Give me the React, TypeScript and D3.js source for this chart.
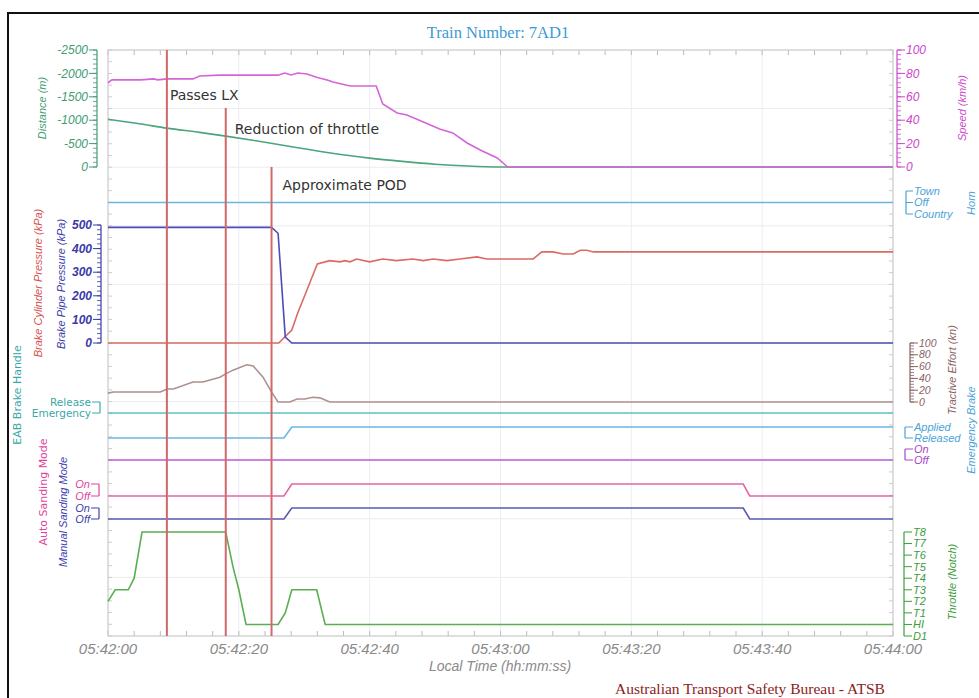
import React from "react";
import * as d3 from "d3";

const W = 979;
const H = 698;

// ---------- data (seconds after 05:42:00, value) ----------
const distanceSeries: [number, number][] = [
  [0, -1020], [5, -920], [9, -830], [14, -740], [18, -660], [24, -530], [29, -410],
  [34, -300], [40, -190], [45, -120], [50, -60], [55, -20], [60, 0], [120, 0],
];
const speedSeries: [number, number][] = [
  [0, 72], [0.6, 74.5], [5, 74.5], [7, 75.3], [7.6, 74.5], [9, 75.3], [13, 75.3], [14, 77.8],
  [17, 78.5], [26, 78.5], [27, 80.3], [28, 78.6], [29, 80.3], [30.4, 79.5], [32, 76.5],
  [33.5, 74.4], [34.4, 72.6], [37, 69.2], [41, 69.2], [42, 53.8], [44.2, 46.2], [45.7, 44.4],
  [48.2, 38.5], [50.7, 32.5], [52.7, 29.1], [54.9, 20.5], [56.9, 14.5], [59.5, 7.7], [61.1, 0], [120, 0],
];
const brakePipeSeries: [number, number][] = [
  [0, 490], [25, 490], [26, 465], [27.1, 25], [28.1, 0], [120, 0],
];
const brakeCylinderSeries: [number, number][] = [
  [0, 0], [26.1, 0], [28.1, 55], [29, 127], [30.6, 237], [32, 335], [33.9, 349], [35.5, 344],
  [36.2, 349], [37, 344], [38, 356], [40, 344], [42, 356], [44.1, 349], [46.6, 356], [48.2, 349],
  [49.7, 356], [51.8, 349], [53.8, 356], [56.4, 365], [57.9, 356], [65, 356], [66.3, 386],
  [68, 386], [69.6, 377], [71.1, 377], [72.2, 393], [73.2, 393], [74.2, 386], [120, 386],
];
const tractiveSeries: [number, number][] = [
  [0, 15], [0.8, 17], [8, 17], [9, 22], [10, 22], [13, 34], [14.5, 34], [17.1, 42], [18.2, 49],
  [19.1, 54], [21.2, 63], [22.2, 61], [23.7, 42], [25.1, 15], [26, 0], [27.8, 0], [28.9, 5],
  [30.1, 5], [31.3, 8], [32.4, 7], [33.9, 0], [120, 0],
];
const throttleSeries: [number, number][] = [
  [0, 3], [1.1, 4], [3.1, 4], [4, 5], [5.2, 9], [18, 9], [19.1, 6], [20, 4], [21.1, 1],
  [26, 1], [27.1, 2], [28.1, 4], [31.9, 4], [33.2, 1], [120, 1],
];
const hornSeries: [number, number][] = [[0, 1], [120, 1]];
const eabSeries: [number, number][] = [[0, 0], [120, 0]];
const emergencyBrakeSeries: [number, number][] = [[0, 0], [26.9, 0], [28.1, 1], [120, 1]];
const onOffSeries: [number, number][] = [[0, 0], [120, 0]];
const autoSandingSeries: [number, number][] = [[0, 0], [26.9, 0], [28.1, 1], [97.1, 1], [98.1, 0], [120, 0]];
const manualSandingSeries: [number, number][] = [[0, 0], [26.9, 0], [28.1, 1], [97.1, 1], [98.1, 0], [120, 0]];

const events = [
  { t: 9, label: "Passes LX" },
  { t: 18, label: "Reduction of throttle" },
  { t: 25, label: "Approximate POD" },
];

const hornLabels = ["Country", "Off", "Town"];
const eabLabels = ["Emergency", "Release"];
const emergencyLabels = ["Released", "Applied"];
const onOffLabels = ["Off", "On"];
const throttleLabels = ["D1", "HI", "T1", "T2", "T3", "T4", "T5", "T6", "T7", "T8"];

// ---------- layout ----------
const PL = 108, PR = 893, PT = 50, PB = 636;
const T0 = new Date(2000, 0, 1, 5, 42, 0);
const T1 = new Date(2000, 0, 1, 5, 44, 0);
const at = (s: number) => new Date(T0.getTime() + s * 1000);
const x = d3.scaleTime().domain([T0, T1]).range([PL, PR]);

const yDist = d3.scaleLinear().domain([-2500, 0]).range([50, 167]);
const ySpeed = d3.scaleLinear().domain([0, 100]).range([167, 50]);
const yPress = d3.scaleLinear().domain([0, 500]).range([343, 225]);
const yHorn = d3.scaleLinear().domain([0, 2]).range([214, 191]);
const yTract = d3.scaleLinear().domain([0, 100]).range([402, 343]);
const yEab = d3.scaleLinear().domain([0, 1]).range([413, 402]);
const yEmerg = d3.scaleLinear().domain([0, 1]).range([438, 427]);
const yOnOff = d3.scaleLinear().domain([0, 1]).range([460, 449]);
const yAuto = d3.scaleLinear().domain([0, 1]).range([496, 484]);
const yManual = d3.scaleLinear().domain([0, 1]).range([519, 508]);
const yThrottle = d3.scaleLinear().domain([0, 9]).range([636, 532]);

const SANS = "'Liberation Sans', Arial, sans-serif";
const VERD = "'DejaVu Sans', Verdana, sans-serif";

function path(data: [number, number][], y: d3.ScaleLinear<number, number>, curve = d3.curveLinear) {
  return d3
    .line<[number, number]>()
    .x((d) => x(at(d[0])))
    .y((d) => y(d[1]))
    .curve(curve)(data) as string;
}

function NumAxisLeft({ scale, ax, major, minor, color, bold }: any) {
  const [d0, d1] = scale.domain();
  const majors = d3.range(d0, d1 + 0.001, major);
  const minors = d3.range(d0, d1 + 0.001, minor);
  return (
    <g>
      <line x1={ax} x2={ax} y1={scale(d0)} y2={scale(d1)} stroke={color} strokeWidth={1.2} />
      {minors.map((v: number, i: number) => (
        <line key={"m" + i} x1={ax - 4} x2={ax} y1={scale(v)} y2={scale(v)} stroke={color} strokeWidth={0.8} />
      ))}
      {majors.map((v: number, i: number) => (
        <g key={"M" + i}>
          <line x1={ax - 8} x2={ax} y1={scale(v)} y2={scale(v)} stroke={color} strokeWidth={1} />
          <text x={ax - 9} y={scale(v)} dy="0.35em" textAnchor="end" fontFamily={SANS} fontStyle="italic"
            fontWeight={bold ? 700 : 400} fontSize={12} fill={color}>{v}</text>
        </g>
      ))}
    </g>
  );
}

function NumAxisRight({ scale, ax, major, minor, color, fs = 12 }: any) {
  const [d0, d1] = scale.domain();
  const majors = d3.range(d0, d1 + 0.001, major);
  const minors = d3.range(d0, d1 + 0.001, minor);
  return (
    <g>
      <line x1={ax} x2={ax} y1={scale(d0)} y2={scale(d1)} stroke={color} strokeWidth={1.2} />
      {minors.map((v: number, i: number) => (
        <line key={"m" + i} x1={ax} x2={ax + 4} y1={scale(v)} y2={scale(v)} stroke={color} strokeWidth={0.8} />
      ))}
      {majors.map((v: number, i: number) => (
        <g key={"M" + i}>
          <line x1={ax} x2={ax + 8} y1={scale(v)} y2={scale(v)} stroke={color} strokeWidth={1} />
          <text x={ax + 9} y={scale(v)} dy="0.35em" textAnchor="start" fontFamily={SANS} fontStyle="italic"
            fontSize={fs} fill={color}>{v}</text>
        </g>
      ))}
    </g>
  );
}

function CatAxis({ scale, labels, ax, side, color, italic = true, family = SANS, fs = 11, tick = 8 }: any) {
  const ys = labels.map((_: string, i: number) => scale(i));
  const dir = side === "left" ? -1 : 1;
  return (
    <g>
      <line x1={ax} x2={ax} y1={Math.min(...ys)} y2={Math.max(...ys)} stroke={color} strokeWidth={1.2} />
      {labels.map((l: string, i: number) => (
        <g key={i}>
          <line x1={ax} x2={ax + dir * tick} y1={ys[i]} y2={ys[i]} stroke={color} strokeWidth={1} />
          <text x={ax + dir * (tick + 1)} y={ys[i]} dy="0.35em" textAnchor={side === "left" ? "end" : "start"}
            fontFamily={family} fontStyle={italic ? "italic" : "normal"} fontSize={fs} fill={color}>{l}</text>
        </g>
      ))}
    </g>
  );
}

function VTitle({ x: tx, y: ty, text, color, italic = true, family = SANS, fs = 12 }: any) {
  return (
    <text transform={`translate(${tx},${ty}) rotate(-90)`} textAnchor="middle" dy="0.35em"
      fontFamily={family} fontStyle={italic ? "italic" : "normal"} fontSize={fs} fill={color}>{text}</text>
  );
}

export default function App() {
  const majorTimes = x.ticks(d3.timeSecond.every(20) as any);
  const minorTimes = x.ticks(d3.timeSecond.every(4) as any);
  const fmt = d3.timeFormat("%H:%M:%S");
  const hGrid = d3.range(0, 11).map((i) => PT + ((PB - PT) * i) / 10);
  const hMinor = d3.range(0, 51).map((i) => PT + ((PB - PT) * i) / 50);

  return (
    <svg width={W} height={H} style={{ position: "absolute", left: 0, top: 0, background: "#fff" }}>
      <rect x={0} y={0} width={W} height={H} fill="#fff" />
      <rect x={8} y={13} width={1000} height={720} fill="none" stroke="#111" strokeWidth={2} />

      <text x={498} y={38} textAnchor="middle" fontFamily="'Liberation Serif', 'Times New Roman', serif"
        fontSize={16.5} fill="#3d9ad1">Train Number: 7AD1</text>

      {/* grid */}
      {hGrid.map((gy, i) => (
        <line key={"hg" + i} x1={PL} x2={PR} y1={gy} y2={gy} stroke="#ececec" strokeWidth={1} />
      ))}
      {majorTimes.map((t, i) => (
        <line key={"vg" + i} x1={x(t)} x2={x(t)} y1={PT} y2={PB} stroke="#ececf2" strokeWidth={1} />
      ))}
      {minorTimes.map((t, i) => (
        <g key={"mt" + i}>
          <line x1={x(t)} x2={x(t)} y1={PT} y2={PT + 5} stroke="#bbb" strokeWidth={1} />
          <line x1={x(t)} x2={x(t)} y1={PB} y2={PB - 5} stroke="#bbb" strokeWidth={1} />
        </g>
      ))}
      {hMinor.map((gy, i) => (
        <g key={"hm" + i}>
          <line x1={PL} x2={PL + 4} y1={gy} y2={gy} stroke="#ccc" strokeWidth={1} />
          <line x1={PR} x2={PR - 4} y1={gy} y2={gy} stroke="#ccc" strokeWidth={1} />
        </g>
      ))}
      <rect x={PL} y={PT} width={PR - PL} height={PB - PT} fill="none" stroke="#cfcfcf" strokeWidth={1.2} />

      {/* x axis labels */}
      {majorTimes.map((t, i) => (
        <text key={"xl" + i} x={x(t)} y={654} textAnchor="middle" fontFamily={SANS} fontStyle="italic"
          fontSize={15} fill="#8a8a8a">{fmt(t)}</text>
      ))}
      <text x={500} y={671} textAnchor="middle" fontFamily={SANS} fontStyle="italic" fontSize={14} fill="#8a8a8a">
        Local Time (hh:mm:ss)
      </text>

      {/* series */}
      <path d={path(hornSeries, yHorn)} fill="none" stroke="#6ab6e2" strokeWidth={1.6} />
      <path d={path(eabSeries, yEab)} fill="none" stroke="#5cc0c0" strokeWidth={1.6} />
      <path d={path(emergencyBrakeSeries, yEmerg)} fill="none" stroke="#6ab6e2" strokeWidth={1.6} />
      <path d={path(onOffSeries, yOnOff)} fill="none" stroke="#bb5ed8" strokeWidth={1.6} />
      <path d={path(autoSandingSeries, yAuto)} fill="none" stroke="#e266a6" strokeWidth={1.6} />
      <path d={path(manualSandingSeries, yManual)} fill="none" stroke="#5a5ab4" strokeWidth={1.6} />
      <path d={path(tractiveSeries, yTract)} fill="none" stroke="#ad9090" strokeWidth={1.6} />
      <path d={path(brakeCylinderSeries, yPress)} fill="none" stroke="#dc6a62" strokeWidth={1.6} />
      <path d={path(brakePipeSeries, yPress)} fill="none" stroke="#4c4cb8" strokeWidth={1.6} />
      <path d={path(throttleSeries, yThrottle)} fill="none" stroke="#5aae52" strokeWidth={1.6} />
      <path d={path(distanceSeries, yDist, d3.curveMonotoneX)} fill="none" stroke="#4aa47c" strokeWidth={1.6} />
      <path d={path(speedSeries, ySpeed)} fill="none" stroke="#d365d8" strokeWidth={1.6} />

      {/* events */}
      {events.map((e, i) => {
        const ex = x(at(e.t));
        const top = [PT, 108, 167][i];
        const ly = [100, 134, 190][i];
        return (
          <g key={"ev" + i}>
            <line x1={ex} x2={ex} y1={top} y2={PB} stroke="#d06868" strokeWidth={2} />
            <text x={ex + 3 + [0, 6, 8][i]} y={ly} fontFamily={VERD} fontSize={14} fill="#333">{e.label}</text>
          </g>
        );
      })}

      {/* left axes */}
      <NumAxisLeft scale={yDist} ax={97} major={500} minor={100} color="#3f9d72" />
      <VTitle x={42} y={108} text="Distance (m)" color="#3f9d72" fs={11} />
      <NumAxisLeft scale={yPress} ax={101} major={100} minor={20} color="#3a3aa8" bold />
      <VTitle x={61} y={284} text="Brake Pipe Pressure (kPa)" color="#3a3aa8" fs={11} />
      <VTitle x={38} y={283} text="Brake Cylinder Pressure (kPa)" color="#d65050" fs={11} />
      <CatAxis scale={yEab} labels={eabLabels} ax={100} side="left" color="#3aa8a8" italic={false} family={VERD} fs={10.5} />
      <VTitle x={17} y={395} text="EAB Brake Handle" color="#3aa8a8" italic={false} family={VERD} fs={11} />
      <CatAxis scale={yAuto} labels={onOffLabels} ax={99} side="left" color="#e0449c" fs={11} />
      <VTitle x={43} y={492} text="Auto Sanding Mode" color="#e0449c" italic={false} family={VERD} fs={11} />
      <CatAxis scale={yManual} labels={onOffLabels} ax={99} side="left" color="#4040b0" fs={11} />
      <VTitle x={63} y={512} text="Manual Sanding Mode" color="#4040b0" fs={11} />

      {/* right axes */}
      <NumAxisRight scale={ySpeed} ax={897} major={20} minor={4} color="#cc48cc" />
      <VTitle x={962} y={108} text="Speed (km/h)" color="#cc48cc" fs={11} />
      <CatAxis scale={yHorn} labels={hornLabels} ax={906} side="right" color="#4aa2d8" fs={11} tick={7} />
      <VTitle x={971} y={203} text="Horn" color="#4aa2d8" fs={11} />
      <NumAxisRight scale={yTract} ax={910} major={20} minor={5} color="#8a6262" fs={10.5} />
      <VTitle x={952} y={370} text="Tractive Effort (kn)" color="#8a6262" fs={11} />
      <CatAxis scale={yEmerg} labels={emergencyLabels} ax={905} side="right" color="#4aa2d8" fs={11} />
      <VTitle x={971} y={430} text="Emergency Brake" color="#4aa2d8" fs={11} />
      <CatAxis scale={yOnOff} labels={onOffLabels} ax={905} side="right" color="#a844cc" fs={11} />
      <CatAxis scale={yThrottle} labels={throttleLabels} ax={904} side="right" color="#3c9c3c" fs={11} />
      <VTitle x={952} y={582} text="Throttle (Notch)" color="#3c9c3c" fs={11} />

      <text x={750} y={694} textAnchor="middle" fontFamily="'Liberation Serif', 'Times New Roman', serif"
        fontSize={15.5} fill="#8b1c1c">Australian Transport Safety Bureau - ATSB</text>
    </svg>
  );
}
